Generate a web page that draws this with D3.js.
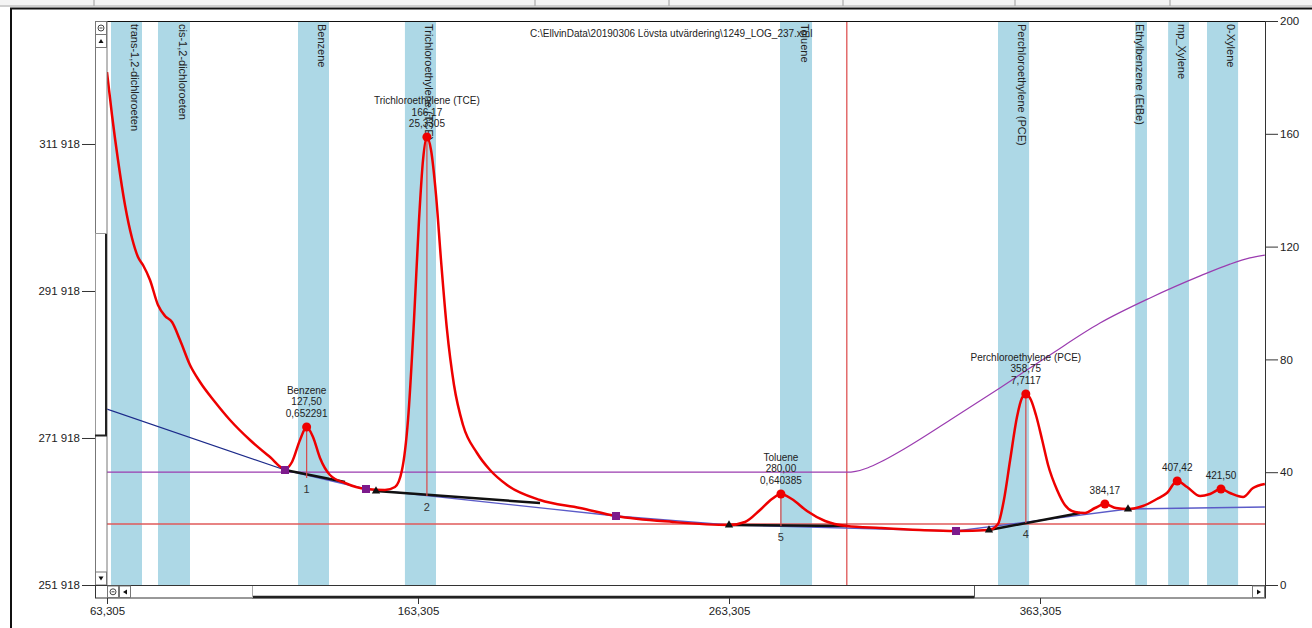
<!DOCTYPE html>
<html>
<head>
<meta charset="utf-8">
<script src="https://cdn.jsdelivr.net/npm/d3@7"></script>
<style>
  body { margin: 0; background: #fff; }
  text { font-family: "Liberation Sans", Arial, sans-serif; fill: #333; }
</style>
</head>
<body>
<svg id="chart" width="1312" height="628"></svg>
<script>
// ---- data ----
const signalTime = [63.3, 64.91, 66.84, 69.09, 71.34, 73.27, 74.88, 77.13, 79.7, 81.95, 84.2, 86.78, 89.99,
  93.21, 98.03, 102.85, 109.28, 115.72, 120.54, 122.79, 125.36, 127.5, 129.54, 131.8, 135.0, 139.83,
  146.58, 152.69, 155.9, 158.16, 160.09, 162.02, 163.63, 164.92, 166.17, 167.49, 169.1, 170.7, 172.63,
  174.88, 177.78, 182.28, 186.46, 191.93, 202.54, 215.4, 226.98, 245.31, 263.31, 268.45, 273.28, 277.1,
  280.0, 283.5, 288.38, 294.2, 301.2, 311.86, 324.7, 336.3, 346.9, 349.8, 351.7, 353.7, 355.9, 357.5,
  358.75, 360.4, 362.0, 364.0, 365.9, 368.8, 371.3, 374.6, 377.8, 381.0, 384.17, 387.7, 391.6, 396.4,
  400.9, 404.1, 407.42, 410.6, 414.8, 418.0, 421.5, 424.4, 428.6, 431.8, 435.6];
const signalValue = [321700, 315862, 309739, 303617, 299127, 296542, 295454, 293413, 290012, 288515, 287699,
  285250, 281849, 279536, 276815, 274366, 271645, 269332, 267700, 268652, 271645, 273414, 272053, 269196,
  266884, 265795, 264979, 264843, 265251, 267564, 274366, 287971, 301576, 309739, 312868, 311100, 304978,
  296134, 286611, 279128, 273686, 269877, 267564, 265523, 263482, 262394, 261305, 260489, 260081, 260489,
  262122, 263618, 264299, 263618, 261986, 260625, 259945, 259673, 259401, 259265, 259401, 260217, 263482,
  268924, 274774, 277359, 277904, 277087, 275047, 271645, 268244, 264843, 262802, 261850, 261714, 262394,
  262938, 262394, 262258, 262666, 263618, 264435, 266067, 265251, 264026, 264299, 264979, 264435, 263890,
  265115, 265659];

const tempTime = [63.3, 301.2, 304.0, 308.0, 312.0, 320.0, 334.4, 350.4, 366.5, 382.6, 398.7, 414.8, 424.4, 430.8, 435.6];
const tempValue = [40, 40, 40.3, 41.6, 43.6, 48.5, 58.5, 69.9, 81.6, 92.9, 101.8, 109.6, 113.8, 116.0, 117.0];

const bandNames = ["trans-1,2-dichloroeten", "cis-1,2-dichloroeten", "Benzene", "Trichloroethylene (TCE)",
  "Toluene", "Perchloroethylene (PCE)", "Ethylbenzene (EtBe)", "mp_Xylene", "0-Xylene"];
const bandStart = [64.59, 79.70, 124.72, 159.1, 279.7, 349.8, 393.9, 404.5, 417.0];
const bandEnd = [74.56, 89.99, 134.69, 169.09, 290.0, 359.8, 397.7, 411.2, 427.0];

const peakNames = ["Benzene", "Trichloroethylene (TCE)", "Toluene", "Perchloroethylene (PCE)", "", "", ""];
const peakTimes = [127.50, 166.17, 280.00, 358.75, 384.17, 407.42, 421.50];
const peakValues = [273414, 312868, 264299, 277904, 262938, 266067, 264979];
const peakAreas = [0.652291, 25.3305, 0.640385, 7.7117, null, null, null];
const peakNumbers = ["1", "2", "5", "4", null, null, null];
const peakBaseValues = [266475, 264026, 259945, 260353, null, null, null];

const leadLineTime = [63.305, 120.54];
const leadLineValue = [275863, 267564];
const baseTime = [120.54, 146.58, 226.98, 263.31, 336.3, 391.6, 435.6];
const baseValue = [267564, 264979, 261305, 260081, 259265, 262258, 262530];
const segStartTime = [120.54, 149.8, 263.31, 346.9];
const segStartValue = [267564, 264707, 260081, 259401];
const segEndTime = [139.83, 202.54, 301.2, 376.2];
const segEndValue = [265931, 263074, 259945, 261714];
const squareTime = [120.54, 146.58, 226.98, 336.3];
const squareValue = [267564, 264979, 261305, 259265];
const triangleTime = [149.8, 263.31, 346.9, 391.6];
const triangleValue = [264707, 260081, 259401, 262258];

const thresholdValue = 260217;
const markerTime = 301.2;

const xTicks = [63.305, 163.305, 263.305, 363.305];
const leftTicks = [251918, 271918, 291918, 311918];
const rightTicks = [0, 40, 80, 120, 160, 200];
const filePath = "C:\\EllvinData\\20190306 Lövsta utvärdering\\1249_LOG_237.xml";

// ---- layout ----
const svg = d3.select('#chart');
const plot = {left: 107, right: 1265, top: 21, bottom: 585};

const x = d3.scaleLinear().domain([63.305, 435.65]).range([plot.left, plot.right]);
const yL = d3.scaleLinear().domain([251918, 328650]).range([plot.bottom, plot.top]);
const yR = d3.scaleLinear().domain([0, 200]).range([plot.bottom, plot.top]);

const comma = (v, n) => v.toFixed(n).replace('.', ',');

// window chrome at the top
svg.append('rect').attr('x', 0).attr('y', 0).attr('width', 1312).attr('height', 7).attr('fill', '#f4f4f4');
[94, 535, 669, 843, 1015, 1170].forEach(px => {
  svg.append('line').attr('x1', px).attr('x2', px).attr('y1', 0).attr('y2', 6)
    .attr('stroke', '#c8c8c8').attr('stroke-width', 2);
});
svg.append('line').attr('x1', 0).attr('x2', 1312).attr('y1', 6).attr('y2', 6).attr('stroke', '#aaa');
svg.append('line').attr('x1', 10).attr('x2', 1312).attr('y1', 8.5).attr('y2', 8.5).attr('stroke', '#111').attr('stroke-width', 2);
svg.append('line').attr('x1', 11).attr('x2', 11).attr('y1', 8).attr('y2', 628).attr('stroke', '#111').attr('stroke-width', 2);

svg.append('clipPath').attr('id', 'clip').append('rect')
  .attr('x', plot.left).attr('y', plot.top).attr('width', plot.right - plot.left).attr('height', plot.bottom - plot.top);

const g = svg.append('g').attr('clip-path', 'url(#clip)');

// compound windows
g.selectAll('.band').data(bandNames).enter().append('rect')
  .attr('x', (d, i) => x(bandStart[i]))
  .attr('width', (d, i) => x(bandEnd[i]) - x(bandStart[i]))
  .attr('y', plot.top + 1).attr('height', plot.bottom - plot.top - 1)
  .attr('fill', '#add8e6');

g.selectAll('.bandLabel').data(bandNames).enter().append('text')
  .attr('transform', (d, i) => `translate(${x(bandEnd[i]) - 7},${plot.top + 3}) rotate(90)`)
  .attr('dy', '0.35em').attr('font-size', 11).style('fill', '#222')
  .text(d => d);

g.append('text').attr('x', 530).attr('y', 37).attr('font-size', 10).style('fill', '#222').text(filePath);

// reference lines
g.append('line').attr('x1', plot.left).attr('x2', plot.right)
  .attr('y1', yL(thresholdValue)).attr('y2', yL(thresholdValue))
  .attr('stroke', '#e05a5a').attr('stroke-width', 1.5);
g.append('line').attr('x1', x(markerTime)).attr('x2', x(markerTime))
  .attr('y1', plot.top).attr('y2', plot.bottom)
  .attr('stroke', '#d42020').attr('stroke-width', 1);

// temperature
const tempLine = d3.line().x((d, i) => x(tempTime[i])).y(d => yR(d)).curve(d3.curveMonotoneX);
g.append('path').attr('d', tempLine(tempValue)).attr('fill', 'none')
  .attr('stroke', '#9b3cb0').attr('stroke-width', 1.2);

// baselines
const leftLine = d3.line().x((d, i) => x(leadLineTime[i])).y(d => yL(d));
g.append('path').attr('d', leftLine(leadLineValue)).attr('fill', 'none').attr('stroke', '#1c2a8a').attr('stroke-width', 1.2);
const baseLine = d3.line().x((d, i) => x(baseTime[i])).y(d => yL(d));
g.append('path').attr('d', baseLine(baseValue)).attr('fill', 'none').attr('stroke', '#5b5bc8').attr('stroke-width', 1.3);

g.selectAll('.seg').data(segStartTime).enter().append('line')
  .attr('x1', d => x(d)).attr('y1', (d, i) => yL(segStartValue[i]))
  .attr('x2', (d, i) => x(segEndTime[i])).attr('y2', (d, i) => yL(segEndValue[i]))
  .attr('stroke', '#111').attr('stroke-width', 2.5);

// drop lines
peakTimes.forEach((t, i) => {
  if (peakBaseValues[i] == null) return;
  g.append('line').attr('x1', x(t)).attr('x2', x(t))
    .attr('y1', yL(peakValues[i])).attr('y2', yL(peakBaseValues[i]))
    .attr('stroke', '#d94848').attr('stroke-width', 1.2);
  g.append('text').attr('x', x(t)).attr('y', yL(peakBaseValues[i]) + 15)
    .attr('text-anchor', 'middle').attr('font-size', 11).text(peakNumbers[i]);
});

// signal
const sigLine = d3.line().x((d, i) => x(signalTime[i])).y(d => yL(d)).curve(d3.curveMonotoneX);
g.append('path').attr('d', sigLine(signalValue)).attr('fill', 'none')
  .attr('stroke', '#ee0000').attr('stroke-width', 2.5).attr('stroke-linejoin', 'round');

// markers
g.selectAll('.sq').data(squareTime).enter().append('rect')
  .attr('x', d => x(d) - 4).attr('y', (d, i) => yL(squareValue[i]) - 4)
  .attr('width', 8).attr('height', 8).attr('fill', '#7d1a8c');
g.selectAll('.tri').data(triangleTime).enter().append('path')
  .attr('d', d3.symbol(d3.symbolTriangle, 30))
  .attr('transform', (d, i) => `translate(${x(d)},${yL(triangleValue[i])})`)
  .attr('fill', '#111');
g.selectAll('.peak').data(peakTimes).enter().append('circle')
  .attr('cx', d => x(d)).attr('cy', (d, i) => yL(peakValues[i])).attr('r', 4.5).attr('fill', '#ee0000');

// peak labels
peakTimes.forEach((t, i) => {
  const lines = peakNames[i] ? [peakNames[i], comma(t, 2), String(peakAreas[i]).replace('.', ',')] : [comma(t, 2)];
  const base = yL(peakValues[i]) - 10;
  lines.forEach((s, j) => {
    g.append('text').attr('x', x(t)).attr('y', base - (lines.length - 1 - j) * 11.5)
      .attr('text-anchor', 'middle').attr('font-size', 10).style('fill', '#222').text(s);
  });
});

// frame of the plot
svg.append('line').attr('x1', 95).attr('x2', plot.right + 13).attr('y1', plot.top + 0.5).attr('y2', plot.top + 0.5).attr('stroke', '#111');
svg.append('line').attr('x1', plot.right + 0.5).attr('x2', plot.right + 0.5).attr('y1', plot.top).attr('y2', 598).attr('stroke', '#333');

// vertical scroll strip
const vs = svg.append('g');
vs.append('rect').attr('x', 95.5).attr('y', plot.top + 0.5).attr('width', 11.5).attr('height', plot.bottom - plot.top)
  .attr('fill', '#fff').attr('stroke', '#777');
vs.append('rect').attr('x', 95.5).attr('y', 233.5).attr('width', 11).attr('height', 202).attr('fill', '#fff').attr('stroke', '#999');
vs.append('line').attr('x1', 106).attr('x2', 106).attr('y1', 234).attr('y2', 436).attr('stroke', '#222').attr('stroke-width', 2);
vs.append('line').attr('x1', 95).attr('x2', 107).attr('y1', 435.5).attr('y2', 435.5).attr('stroke', '#222').attr('stroke-width', 2);
[[21.5, 'zoom'], [34.5, 'up'], [572, 'down']].forEach(([yy, k]) => {
  vs.append('rect').attr('x', 95.5).attr('y', yy).attr('width', 11).attr('height', 13).attr('fill', '#fff').attr('stroke', '#777');
  if (k === 'zoom') {
    vs.append('circle').attr('cx', 101).attr('cy', yy + 6.5).attr('r', 3).attr('fill', 'none').attr('stroke', '#444');
    vs.append('line').attr('x1', 99.5).attr('x2', 102.5).attr('y1', yy + 6.5).attr('y2', yy + 6.5).attr('stroke', '#444');
  } else if (k === 'up') {
    vs.append('path').attr('d', `M98.5,${yy + 8.5}L103.5,${yy + 8.5}L101,${yy + 4.5}Z`).attr('fill', '#111');
  } else {
    vs.append('path').attr('d', `M98.5,${yy + 4.5}L103.5,${yy + 4.5}L101,${yy + 8.5}Z`).attr('fill', '#111');
  }
});

// horizontal scroll strip
const hs = svg.append('g');
hs.append('rect').attr('x', 95.5).attr('y', plot.bottom + 0.5).attr('width', plot.right - 95).attr('height', 12.5)
  .attr('fill', '#fff').attr('stroke', '#333');
hs.append('line').attr('x1', 252).attr('x2', 974).attr('y1', 597).attr('y2', 597).attr('stroke', '#222').attr('stroke-width', 2.5);
hs.append('line').attr('x1', 974.5).attr('x2', 974.5).attr('y1', 586).attr('y2', 598).attr('stroke', '#555');
hs.append('line').attr('x1', 252.5).attr('x2', 252.5).attr('y1', 586).attr('y2', 598).attr('stroke', '#aaa');
hs.append('rect').attr('x', 107.5).attr('y', 586).attr('width', 11).attr('height', 11.5).attr('fill', '#fff').attr('stroke', '#777');
hs.append('circle').attr('cx', 113).attr('cy', 591.8).attr('r', 3).attr('fill', 'none').attr('stroke', '#444');
hs.append('line').attr('x1', 111.5).attr('x2', 114.5).attr('y1', 591.8).attr('y2', 591.8).attr('stroke', '#444');
hs.append('rect').attr('x', 119.5).attr('y', 586).attr('width', 11).attr('height', 11.5).attr('fill', '#fff').attr('stroke', '#777');
hs.append('path').attr('d', 'M123,592L127,589.5L127,594.5Z').attr('fill', '#111');
hs.append('rect').attr('x', 1252.5).attr('y', 586).attr('width', 12).attr('height', 11.5).attr('fill', '#fff').attr('stroke', '#777');
hs.append('path').attr('d', 'M1261,592L1257,589.5L1257,594.5Z').attr('fill', '#111');

// axes
const leftAxis = d3.axisLeft(yL).tickValues(leftTicks).tickSize(13).tickPadding(2)
  .tickFormat(d => d3.format(',')(d).replace(',', ' '));
svg.append('g').attr('transform', 'translate(95,0)').call(leftAxis)
  .call(a => a.select('.domain').remove());

const rightAxis = d3.axisRight(yR).tickValues(rightTicks).tickSize(13).tickPadding(2);
svg.append('g').attr('transform', `translate(${plot.right},0)`).call(rightAxis)
  .call(a => a.select('.domain').remove());

const bottomAxis = d3.axisBottom(x).tickValues(xTicks).tickSize(6).tickPadding(3)
  .tickFormat(d => comma(d, 3));
svg.append('g').attr('transform', 'translate(0,598)').call(bottomAxis)
  .call(a => a.select('.domain').remove());

svg.selectAll('.tick text').attr('font-size', 11.5).style('font-family', '"Liberation Sans", Arial, sans-serif').style('fill', '#222');
svg.selectAll('.tick line').attr('stroke', '#333');
</script>
</body>
</html>
